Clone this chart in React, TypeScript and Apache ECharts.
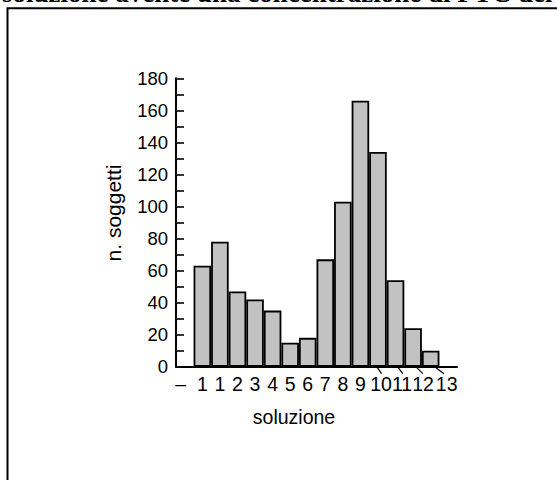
import React, { useEffect, useRef } from "react";
import * as echarts from "echarts";

// ---- data ----
const categories = ["–", "1", "1", "2", "3", "4", "5", "6", "7", "8", "9", "10", "11", "12", "13", ""];
const counts: (number | null)[] = [null, 63, 78, 47, 42, 35, 15, 18, 67, 103, 166, 134, 54, 24, 10, null];
const yMin = 0;
const yMax = 180;
const yStep = 20;
const titleText = "soluzione avente una concentrazione di PTC del";
const xName = "soluzione";
const yName = "n. soggetti";
const leaderIdx = [11, 12, 13, 14];

const FONT = '"Liberation Sans", Arial, Helvetica, sans-serif';

// horizontal nudges of some tick labels (px), as printed in the source
const labelShift: Record<number, number> = { 0: -4, 11: 3, 12: 6.5, 13: 10, 14: 16 };
// leader line offsets from the category centre (start dx, end dx)
const leaderOffsets: Record<number, [number, number]> = {
  11: [-0.7, 3.7],
  12: [2.8, 7.2],
  13: [3.7, 9.7],
  14: [5.3, 13.3],
};

export default function App() {
  const ref = useRef<HTMLDivElement>(null);

  useEffect(() => {
    if (!ref.current) return;
    const chart = echarts.init(ref.current, undefined, { renderer: "svg" });

    const XL = 19.5;
    const rich: Record<string, any> = { t: { fontSize: XL, fontFamily: FONT, color: "#000" } };
    Object.keys(labelShift).forEach((k) => {
      rich["p" + k] = { width: Math.abs(labelShift[+k]) * 2, fontSize: XL };
    });

    const option: any = {
      animation: false,
      backgroundColor: "#fff",
      grid: { left: 176, right: 100, top: 78.3, bottom: 113.3, containLabel: false },
      xAxis: {
        type: "category",
        data: categories,
        boundaryGap: true,
        axisLine: { show: true, lineStyle: { color: "#000", width: 2 } },
        axisTick: { show: false },
        splitLine: { show: false },
        axisLabel: {
          interval: 0,
          margin: 7,
          fontSize: XL,
          fontFamily: FONT,
          color: "#000",
          rich,
          formatter: (value: string, index: number) => {
            if (!value) return "";
            const s = labelShift[index];
            if (s === undefined) return `{t|${value}}`;
            if (s > 0) return `{p${index}| }{t|${value}}`;
            return `{t|${value}}{p${index}| }`;
          },
        },
        name: xName,
        nameLocation: "middle",
        nameGap: 40,
        nameTextStyle: {
          fontSize: 19.5,
          fontFamily: FONT,
          color: "#000",
          padding: [0, 45, 0, 0],
        },
      },
      yAxis: {
        type: "value",
        min: yMin,
        max: yMax,
        interval: yStep,
        axisLine: { show: true, lineStyle: { color: "#000", width: 2 } },
        axisTick: { show: true, inside: true, length: 8, lineStyle: { color: "#000", width: 1.6 } },
        minorTick: { show: true, splitNumber: 2, length: 8, lineStyle: { color: "#000", width: 1.6 } },
        splitLine: { show: false },
        minorSplitLine: { show: false },
        axisLabel: { margin: 8, fontSize: 18.5, fontFamily: FONT, color: "#000" },
        name: yName,
        nameLocation: "middle",
        nameGap: 52,
        nameTextStyle: {
          fontSize: 21,
          fontFamily: FONT,
          color: "#000",
          padding: [0, 0, 0, 19],
        },
      },
      series: [
        {
          type: "bar",
          data: counts,
          barCategoryGap: "0%",
          itemStyle: { color: "#c2c2c2", borderColor: "#000", borderWidth: 1.8 },
        },
      ],
    };
    chart.setOption(option);

    const y0 = chart.convertToPixel({ yAxisIndex: 0 }, yMin) as number;
    const leaders = leaderIdx.map((i) => {
      const cx = chart.convertToPixel({ xAxisIndex: 0 }, i) as number;
      const [a, b] = leaderOffsets[i];
      return {
        type: "line",
        shape: { x1: cx + a, y1: y0 + 1, x2: cx + b, y2: y0 + 7 },
        style: { stroke: "#000", lineWidth: 1.2 },
        silent: true,
      };
    });

    chart.setOption({
      graphic: [
        {
          type: "rect",
          shape: { x: 7.5, y: 8.3, width: 700, height: 700 },
          style: { fill: "none", stroke: "#000", lineWidth: 2 },
          silent: true,
        },
        {
          type: "text",
          x: 2,
          y: -7.5,
          style: {
            text: titleText,
            font: 'bold 27px "Liberation Serif", "Times New Roman", serif',
            fill: "#000",
            verticalAlign: "middle",
            align: "left",
          },
          silent: true,
        },
        ...leaders,
      ],
    });

    return () => chart.dispose();
  }, []);

  return (
    <div
      ref={ref}
      style={{ position: "fixed", left: 0, top: 0, width: 557, height: 480, background: "#fff" }}
    />
  );
}
